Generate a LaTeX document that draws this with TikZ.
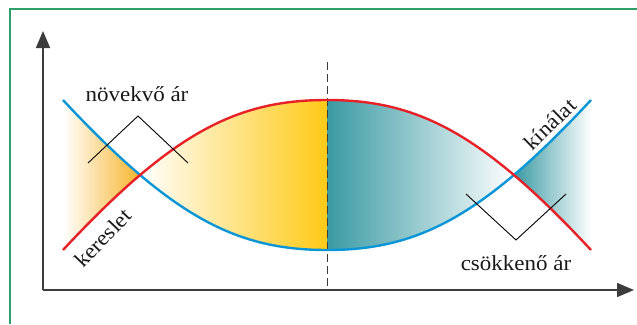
\documentclass[tikz,border=0pt]{standalone}
\usepackage{fontspec}
\newfontfamily\lblfont[FakeStretch=1.07]{Liberation Serif}
\usetikzlibrary{arrows.meta}
\definecolor{frame}{HTML}{2E9E6B}
\definecolor{axis}{HTML}{3C3C3C}
\definecolor{demand}{HTML}{0A96D6}
\definecolor{supply}{HTML}{E62228}
\definecolor{gold}{HTML}{FFC915}
\definecolor{amber}{HTML}{F7B52C}
\definecolor{teal}{HTML}{3A9AA3}
\tikzset{
  lbl/.style={font=\lblfont\fontsize{21.5}{24}\selectfont, text=black!90, inner sep=0pt},
  curve/.style={line width=2.4pt},
  hat/.style={black, line width=0.9pt},
}
\begin{document}
\begin{tikzpicture}[x=1pt,y=-1pt]
\useasboundingbox (0,0) rectangle (637,324);
% green frame
\draw[frame, line width=1.3pt] (10,324) -- (10,9) -- (637,9);
% left lobes
\begin{scope}
\clip (63,100) .. controls (173,218) and (237,250) .. (327,250) -- (327,100)
  .. controls (237,100) and (173,132) .. (63,250) -- cycle;
\shade[left color=white, right color=amber] (63,90) rectangle (140,260);
\shade[left color=white, right color=gold] (140,90) rectangle (327.5,260);
\end{scope}
% right lobes
\begin{scope}
\clip (327,250) .. controls (417,250) and (481,218) .. (591,100) -- (591,250)
  .. controls (481,132) and (417,100) .. (327,100) -- cycle;
\shade[left color=teal, right color=white] (327.5,90) rectangle (514,260);
\shade[left color=teal, right color=white] (514,90) rectangle (591,260);
\end{scope}
% axes
\coordinate (o) at (43,290);
\coordinate (ytop) at (43,31);
\coordinate (xend) at (634,290);
\draw[axis, line width=1.6pt, -{Triangle[length=17pt,width=14pt]}] (o) -- (ytop);
\draw[axis, line width=1.6pt, -{Triangle[length=17pt,width=14pt]}] (o) -- (xend);
\draw[axis, line width=1.1pt, dash pattern=on 8pt off 4pt] (327.5,62) -- (327.5,290);
% the two curves
\draw[curve, demand] (63,100) .. controls (173,218) and (237,250) .. (327,250)
  .. controls (417,250) and (481,218) .. (591,100);
\draw[curve, supply] (63,250) .. controls (173,132) and (237,100) .. (327,100)
  .. controls (417,100) and (481,132) .. (591,250);
% carets and labels
\draw[hat] (88,163) -- (138,116) -- (188,163);
\draw[hat] (466,194) -- (516,240) -- (566,194);
\node[lbl] (up) at (137,94) {növekvő ár};
\node[lbl] (down) at (516,263) {csökkenő ár};
\node[lbl, rotate=46] (dem) at (103,238) {kereslet};
\node[lbl, rotate=44] (sup) at (550,124) {kínálat};
\end{tikzpicture}
\end{document}
